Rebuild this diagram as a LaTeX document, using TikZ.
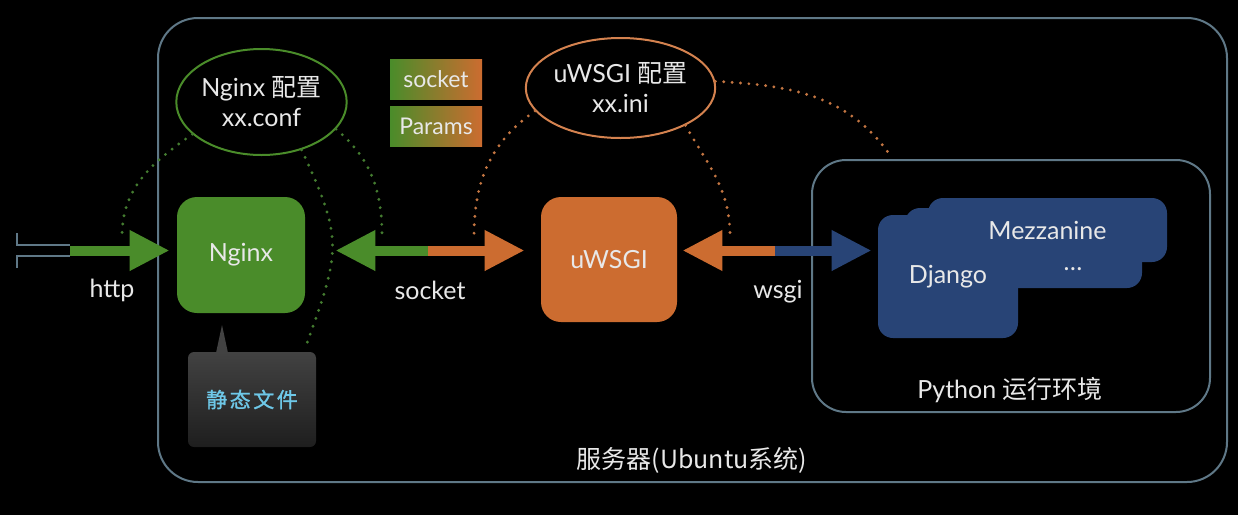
\documentclass[tikz,border=0pt]{standalone}
\usepackage{fontspec}
\setmainfont{Lato}
\newfontfamily\cjk{Noto Sans CJK SC}
\newfontfamily\cjkwide[LetterSpace=12,FakeBold=1.2]{Noto Sans CJK SC}
\usepackage{xcolor}
\usetikzlibrary{positioning, arrows.meta, shapes.geometric}

\definecolor{ngxgreen}{RGB}{74,140,42}
\definecolor{wsgiorange}{RGB}{204,108,48}
\definecolor{djblue}{RGB}{40,68,118}
\definecolor{framegray}{RGB}{95,120,135}
\definecolor{txtwhite}{RGB}{232,232,232}
\definecolor{dotgreen}{RGB}{68,124,48}
\definecolor{dotorange}{RGB}{196,118,66}
\definecolor{staticcyan}{RGB}{110,200,232}
\definecolor{statictop}{RGB}{66,66,66}
\definecolor{staticbot}{RGB}{30,30,30}

\tikzset{
  srvbox/.style={draw=framegray, line width=1pt, rounded corners=20pt, inner sep=0pt},
  appbox/.style={rounded corners=10pt, inner sep=0pt, text=txtwhite},
  djrect/.style={fill=djblue, rounded corners=7.5pt, inner sep=0pt, text=txtwhite},
  cfg/.style={ellipse, line width=1pt, inner sep=0pt, text=txtwhite, align=center},
  lbl/.style={text=txtwhite},
  fat/.style={line width=5pt, -{Triangle[length=20pt,width=19pt]}},
  pipe/.style={draw=framegray, line width=1pt},
  dotline/.style={line width=1.6pt, line cap=round, dash pattern=on 0pt off 4.2pt},
  paramtag/.style={minimum width=46pt, minimum height=20pt, inner sep=0pt, left color=ngxgreen, right color=wsgiorange, text=txtwhite, font=\fontsize{11.5pt}{13pt}\selectfont},
}

\begin{document}
\begin{tikzpicture}[x=0.5pt, y=-0.5pt, font=\fontsize{12.5pt}{15pt}\selectfont]
    \useasboundingbox (0,0) rectangle (1238,515);
    \fill[black] (0,0) rectangle (1238,515);

    \node[srvbox, minimum width=534.5pt, minimum height=232pt] (server) at (692.5, 250) {};
    \node[lbl] (serverlbl) at (692, 460) {\cjk 服务器(Ubuntu系统)};
    \node[srvbox, rounded corners=17pt, minimum width=199pt, minimum height=126pt] (pyenv) at (1011, 286) {};
    \node[lbl] (pylbl) at (1010, 390) {Python {\cjk 运行环境}};

    \node[cfg, draw=ngxgreen, minimum width=81.5pt, minimum height=53pt] (ngxconf) at (261.5, 102) {Nginx {\cjk 配置}\\xx.conf};
    \node[cfg, draw=wsgiorange!85!white, minimum width=92.5pt, minimum height=50pt] (wsgiconf) at (620.5, 88) {uWSGI {\cjk 配置}\\xx.ini};
    \node[paramtag] (socktag) at (436, 79) {socket};
    \node[paramtag] (params) at (436, 126) {Params};

    \node[appbox, fill=ngxgreen, minimum width=64pt, minimum height=58pt] (nginx) at (241, 255) {Nginx};
    \node[appbox, fill=wsgiorange, minimum width=68pt, minimum height=62.5pt] (uwsgi) at (609, 259.5) {uWSGI};

    \coordinate (tipapex) at (222, 325);
    \fill[statictop] (tipapex) -- (228, 353) -- (216, 353) -- cycle;
    \node[rounded corners=3pt, top color=statictop, bottom color=staticbot, minimum width=64pt, minimum height=47.5pt, inner sep=0pt, text=staticcyan, font=\fontsize{10.5pt}{12pt}\cjkwide] (static) at (252, 399.5) {静态文件};

    \node[djrect, minimum width=118.5pt, minimum height=40pt] (etcbox) at (1023.5, 248) {};
    \node[djrect, minimum width=70pt, minimum height=61.5pt] (django) at (948, 276.5) {Django};
    \node[djrect, minimum width=119.5pt, minimum height=32pt] (mezz) at (1047.5, 230) {Mezzanine};
    \node[lbl] (etclbl) at (1073, 269) {…};

    \draw[pipe] (17, 233) -- (17, 245) -- (70, 245);
    \draw[pipe] (17, 268) -- (17, 256) -- (70, 256);
    \coordinate (httpin) at (70, 250.5);
    \draw[fat, ngxgreen, shorten >=3.5pt] (httpin) -- (httpin -| nginx.west);
    \node[lbl] (httplbl) at (112, 290) {http};

    \coordinate (sockmid) at (428, 250.5);
    \draw[fat, ngxgreen, shorten >=15pt] (sockmid) -- (sockmid -| nginx.east);
    \draw[fat, wsgiorange, shorten >=8pt] (sockmid) -- (sockmid -| uwsgi.west);
    \node[lbl] (socklbl) at (430, 290) {socket};

    \coordinate (wsgimid) at (775, 250.5);
    \draw[fat, wsgiorange, shorten >=2.5pt] (wsgimid) -- (wsgimid -| uwsgi.east);
    \draw[fat, djblue, shorten >=3pt] (wsgimid) -- (wsgimid -| django.west);
    \node[lbl] (wsgilbl) at (778, 292) {wsgi};

    \coordinate (gl) at (122, 236);
    \coordinate (gr) at (382, 236);
    \coordinate (gs) at (307, 343);
    \draw[dotline, dotgreen] (ngxconf.205) to[out=215, in=90] (gl);
    \draw[dotline, dotgreen] (ngxconf.-20) to[out=-40, in=90] (gr);
    \draw[dotline, dotgreen] (ngxconf.-50) to[out=-65, in=70, looseness=1.3] (gs);

    \coordinate (ol) at (474, 236);
    \coordinate (orr) at (730, 236);
    \coordinate (op) at (890, 155);
    \draw[dotline, dotorange] (wsgiconf.195) to[out=215, in=90] (ol);
    \draw[dotline, dotorange] (wsgiconf.-30) to[out=-60, in=90] (orr);
    \draw[dotline, dotorange] (wsgiconf.4) to[out=-3, in=125] (op);
\end{tikzpicture}
\end{document}
